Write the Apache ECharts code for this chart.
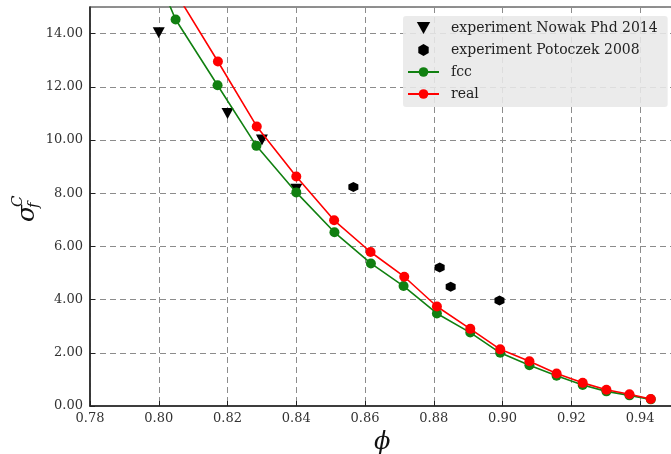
<!DOCTYPE html>
<html><head><meta charset="utf-8">
<script src="https://cdn.jsdelivr.net/npm/echarts@6/dist/echarts.min.js"></script>
<style>html,body{margin:0;padding:0;background:#fff}#c{width:671px;height:454px}</style>
</head><body><div id="c"></div><script>
const phiFcc   = [0.7925, 0.8049, 0.8171, 0.8284, 0.8400, 0.8511, 0.8617, 0.8712, 0.8809, 0.8906, 0.8993, 0.9078, 0.9157, 0.9233, 0.9302, 0.9369, 0.9431];
const sigmaFcc = [18.3, 14.53, 12.06, 9.78, 8.03, 6.53, 5.36, 4.51, 3.48, 2.76, 2.00, 1.53, 1.14, 0.79, 0.55, 0.40, 0.25];
const phiReal   = [0.8049, 0.8172, 0.8285, 0.8400, 0.8510, 0.8616, 0.8714, 0.8809, 0.8906, 0.8993, 0.9078, 0.9157, 0.9233, 0.9302, 0.9369, 0.9431];
const sigmaReal = [15.55, 12.95, 10.51, 8.63, 6.98, 5.79, 4.86, 3.74, 2.90, 2.13, 1.68, 1.22, 0.87, 0.61, 0.44, 0.26];
const phiNowak   = [0.800, 0.820, 0.830, 0.840];
const sigmaNowak = [14.03, 11.0, 10.0, 8.15];
const phiPotoczek   = [0.8566, 0.8817, 0.8849, 0.8991];
const sigmaPotoczek = [8.23, 5.21, 4.48, 3.97];
const seriesNames = ['experiment Nowak Phd 2014', 'experiment Potoczek 2008', 'fcc', 'real'];

const zip = (a, b) => a.map((v, i) => [v, b[i]]);
const serif = 'DejaVu Serif';
const triDown = 'path://M0,0 L10,0 L5,9 Z';
const hexagon = 'path://M5,0 L9.33,2.5 L9.33,7.5 L5,10 L0.67,7.5 L0.67,2.5 Z';

const chart = echarts.init(document.getElementById('c'));
chart.setOption({
  animation: false,
  backgroundColor: '#fff',
  grid: { left: 90, right: -3.5, top: 7, bottom: 48, outerBoundsMode: 'none', containLabel: false,
    show: true, borderColor: '#222', borderWidth: 1.2, backgroundColor: '#fff' },
  xAxis: {
    type: 'value', min: 0.78, max: 0.95, interval: 0.02,
    name: 'ϕ', nameLocation: 'middle', nameGap: 25,
    nameTextStyle: { fontFamily: serif, fontStyle: 'italic', fontSize: 24, color: '#111' },
    axisLine: { onZero: false, lineStyle: { color: '#222', width: 1.5 } },
    axisTick: { inside: true, length: 5, lineStyle: { color: '#222' } },
    axisLabel: { showMaxLabel: false, margin: 6, fontFamily: serif, fontSize: 13, color: '#333', formatter: v => v.toFixed(2) },
    splitLine: { show: true, lineStyle: { type: [6, 4], color: '#8c8c8c', width: 1 } }
  },
  yAxis: {
    type: 'value', min: 0, max: 15, interval: 2,
    axisLine: { show: true, onZero: false, lineStyle: { color: '#222', width: 1.5 } },
    axisTick: { show: true, inside: true, length: 5, lineStyle: { color: '#222' } },
    axisLabel: { showMaxLabel: false, margin: 7, fontFamily: serif, fontSize: 13, color: '#333', formatter: v => v.toFixed(2) },
    splitLine: { show: true, lineStyle: { type: [6, 4], color: '#8c8c8c', width: 1 } }
  },
  legend: {
    orient: 'vertical', left: 403, top: 16,
    padding: [5, 10, 6, 4], itemGap: 8, itemWidth: 31, itemHeight: 12,
    backgroundColor: 'rgba(232,232,232,0.88)', borderRadius: 3,
    textStyle: { fontFamily: serif, fontSize: 14, color: '#222', padding: [0, 0, 0, 7] },
    data: seriesNames
  },
  graphic: [{
    type: 'group', x: 27, y: 222, rotation: Math.PI / 2,
    children: [
      { type: 'text', x: 0, y: 0, style: { text: 'σ', fontFamily: serif, fontStyle: 'italic', fontSize: 25, fill: '#111', align: 'left', verticalAlign: 'middle' } },
      { type: 'text', x: 15, y: -9, style: { text: 'C', fontFamily: serif, fontStyle: 'italic', fontSize: 15, fill: '#111', align: 'left', verticalAlign: 'middle' } },
      { type: 'text', x: 14, y: 7, style: { text: 'f', fontFamily: serif, fontStyle: 'italic', fontSize: 15, fill: '#111', align: 'left', verticalAlign: 'middle' } }
    ]
  }],
  series: [
    { name: seriesNames[0], type: 'scatter', data: zip(phiNowak, sigmaNowak), symbol: triDown, symbolSize: [12, 11], itemStyle: { color: '#000', opacity: 1 }, z: 2 },
    { name: seriesNames[1], type: 'scatter', data: zip(phiPotoczek, sigmaPotoczek), symbol: hexagon, symbolSize: 10, itemStyle: { color: '#000', opacity: 1 }, z: 2 },
    { name: seriesNames[2], type: 'line', data: zip(phiFcc, sigmaFcc), symbol: 'circle', symbolSize: 10, showAllSymbol: true, clip: true,
      lineStyle: { color: '#118011', width: 1.6 }, itemStyle: { color: '#118011' }, z: 3 },
    { name: seriesNames[3], type: 'line', data: zip(phiReal, sigmaReal), symbol: 'circle', symbolSize: 10, showAllSymbol: true, clip: true,
      lineStyle: { color: '#ff0000', width: 1.6 }, itemStyle: { color: '#ff0000' }, z: 4 }
  ]
});
</script></body></html>
